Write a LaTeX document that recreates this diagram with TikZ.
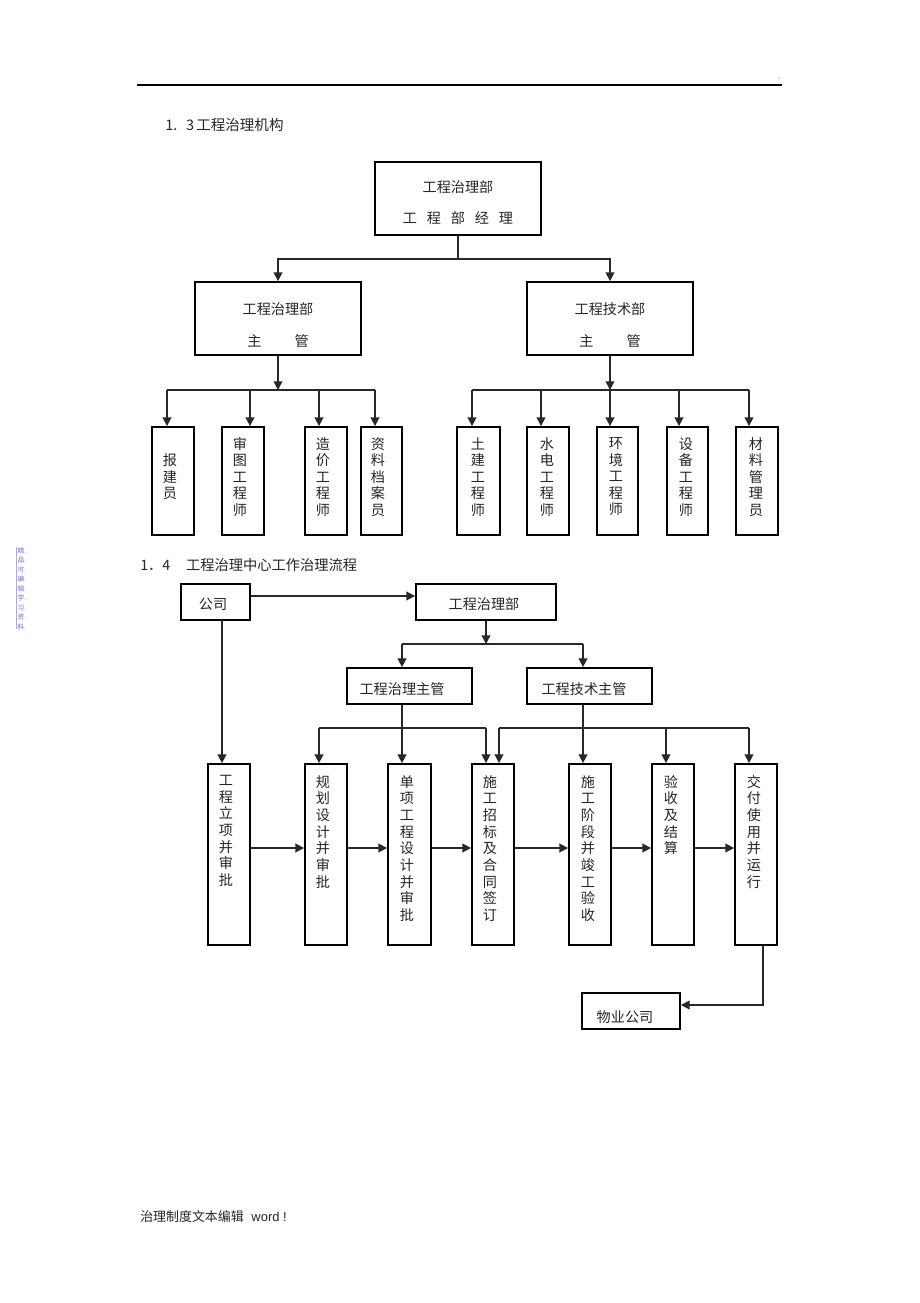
\documentclass[tikz,border=0pt]{standalone}
\usepackage{fontspec}
\setmainfont{Liberation Sans}
\newfontfamily\cjk{Noto Sans CJK SC}
\usetikzlibrary{arrows.meta,fit}
\definecolor{linegray}{RGB}{40,40,40}
\definecolor{sideblue}{RGB}{110,110,215}
\begin{document}
\begin{tikzpicture}[x=0.75pt,y=-0.75pt,
  box/.style={draw=black, line width=1.3pt, inner sep=0pt},
  conn/.style={draw=linegray, line width=1.1pt},
  arr/.style={conn, -{Triangle[length=6.5pt,width=6.5pt]}},
  txt/.style={font=\cjk\fontsize{10.6}{12.4}\selectfont, inner sep=0pt, text=black!85},
  vtxt/.style={txt, align=center},
  ftxt/.style={font=\cjk\fontsize{10.6}{12.5}\selectfont, inner sep=0pt, align=center, anchor=north, text=black!85},
  head/.style={font=\cjk\fontsize{10.9}{12}\selectfont, inner sep=0pt, anchor=west, text=black!85},
]
\fill[white] (0,0) rectangle (920,1303);
\useasboundingbox (0,0) rectangle (920,1303);

% header
\draw[line width=0.9pt] (137,85) -- (782,85);
\fill[black!60] (779,78) circle (0.7);
\node[head] (h13) at (165,125) {1.\hspace{0.6em}3\hspace{0.15em}工程治理机构};

% side text
\draw[sideblue!60, line width=0.6pt] (16,547) -- (16,629);
\node[font=\cjk\fontsize{5}{7.1}\selectfont, text=sideblue, align=center, inner sep=0pt, anchor=north] (side) at (22,547.5)
  {精.\\品.\\可.\\编.\\辑.\\学.\\习.\\资.\\料.};

% ===== org chart =====
\node[box, fit={(375,162) (541,235)}] (top) {};
\node[txt] (top1) at (458,187) {工程治理部};
\node[txt] (top2) at (458,218) {工\hspace{0.7em}程\hspace{0.7em}部\hspace{0.7em}经\hspace{0.7em}理};

\node[box, fit={(195,282) (361,355)}] (m1) {};
\node[txt] (m1a) at (278,309) {工程治理部};
\node[txt] (m1b) at (278,341) {主\hspace{2.35em}管};
\node[box, fit={(527,282) (693,355)}] (m2) {};
\node[txt] (m2a) at (610,309) {工程技术部};
\node[txt] (m2b) at (610,341) {主\hspace{2.35em}管};

\coordinate (j1) at (458,259);
\draw[conn] (top.south) -- (j1);
\draw[arr] (j1) -| (m1.north);
\draw[arr] (j1) -| (m2.north);

% left group
\node[box, fit={(152,427) (194,535)}] (a1) {};
\node[vtxt] at (170,477) {报\\建\\员};
\node[box, fit={(222,427) (264,535)}] (a2) {};
\node[vtxt] at (240,477) {审\\图\\工\\程\\师};
\node[box, fit={(305,427) (347,535)}] (a3) {};
\node[vtxt] at (323,477) {造\\价\\工\\程\\师};
\node[box, fit={(361,427) (402,535)}] (a4) {};
\node[vtxt] at (378,477) {资\\料\\档\\案\\员};

\coordinate (j2) at (278,390);
\draw[arr] (m1.south) -- (j2);
\coordinate (p1) at (167,390);
\coordinate (p2) at (250,390);
\coordinate (p3) at (319,390);
\coordinate (p4) at (375,390);
\draw[conn] (p1) -- (p4);
\draw[arr] (p1) -- (p1 |- a1.north);
\draw[arr] (p2) -- (p2 |- a2.north);
\draw[arr] (p3) -- (p3 |- a3.north);
\draw[arr] (p4) -- (p4 |- a4.north);

% right group
\node[box, fit={(457,427) (500,535)}] (b1) {};
\node[vtxt] at (478,477) {土\\建\\工\\程\\师};
\node[box, fit={(527,427) (569,535)}] (b2) {};
\node[vtxt] at (547,477) {水\\电\\工\\程\\师};
\node[box, fit={(597,427) (638,535)}] (b3) {};
\node[vtxt] at (616,477) {环\\境\\工\\程\\师};
\node[box, fit={(667,427) (708,535)}] (b4) {};
\node[vtxt] at (686,477) {设\\备\\工\\程\\师};
\node[box, fit={(736,427) (778,535)}] (b5) {};
\node[vtxt] at (756,477) {材\\料\\管\\理\\员};

\coordinate (j3) at (610,390);
\draw[arr] (m2.south) -- (j3);
\coordinate (q1) at (472,390);
\coordinate (q2) at (541,390);
\coordinate (q3) at (610,390);
\coordinate (q4) at (679,390);
\coordinate (q5) at (749,390);
\draw[conn] (q1) -- (q5);
\draw[arr] (q1) -- (q1 |- b1.north);
\draw[arr] (q2) -- (q2 |- b2.north);
\draw[arr] (q3) -- (q3 |- b3.north);
\draw[arr] (q4) -- (q4 |- b4.north);
\draw[arr] (q5) -- (q5 |- b5.north);

% ===== flow chart =====
\node[font=\cjk\fontsize{10.7}{12}\selectfont, inner sep=0pt, anchor=west, text=black!85] (h14) at (140,565) {1．4\hspace{1.1em}工程治理中心工作治理流程};

\node[box, fit={(181,584) (250,620)}] (gs) {};
\node[txt] at (213,604) {公司};
\node[box, fit={(416,584) (556,620)}] (gb) {};
\node[txt] at (484,604) {工程治理部};
\draw[arr] ([yshift=4.5pt]gs.east) -- ([yshift=4.5pt]gb.west);

\node[box, fit={(347,668) (472,704)}] (ga) {};
\node[txt] at (402,689) {工程治理主管};
\node[box, fit={(527,668) (652,704)}] (gt) {};
\node[txt] at (584,689) {工程技术主管};

\coordinate (k1) at (486,644);
\coordinate (k2) at (402,644);
\coordinate (k3) at (583,644);
\draw[arr] (gb.south) -- (k1);
\draw[conn] (k2) -- (k3);
\draw[arr] (k2) -- (k2 |- ga.north);
\draw[arr] (k3) -- (k3 |- gt.north);

% process boxes
\node[box, fit={(208,764) (250,945)}] (f1) {};
\node[ftxt] at (226,775) {工\\程\\立\\项\\并\\审\\批};
\node[box, fit={(305,764) (347,945)}] (f2) {};
\node[ftxt] at (323,775) {规\\划\\设\\计\\并\\审\\批};
\node[box, fit={(388,764) (431,945)}] (f3) {};
\node[ftxt] at (407,775) {单\\项\\工\\程\\设\\计\\并\\审\\批};
\node[box, fit={(472,764) (514,945)}] (f4) {};
\node[ftxt] at (490,775) {施\\工\\招\\标\\及\\合\\同\\签\\订};
\node[box, fit={(569,764) (611,945)}] (f5) {};
\node[ftxt] at (588,775) {施\\工\\阶\\段\\并\\竣\\工\\验\\收};
\node[box, fit={(652,764) (694,945)}] (f6) {};
\node[ftxt] at (671,775) {验\\收\\及\\结\\算};
\node[box, fit={(735,764) (777,945)}] (f7) {};
\node[ftxt] at (754,775) {交\\付\\使\\用\\并\\运\\行};

% company down
\coordinate (s1) at (222,620);
\draw[arr] (s1) -- (s1 |- f1.north);

% managers down
\draw[arr] (k2 |- ga.south) -- (k2 |- f3.north);
\draw[arr] (k3 |- gt.south) -- (k3 |- f5.north);

% buses
\coordinate (l1) at (319,728);
\coordinate (l2) at (486,728);
\draw[conn] (l1) -- (l2);
\draw[arr] (l1) -- (l1 |- f2.north);
\draw[arr] (l2) -- (l2 |- f4.north);
\coordinate (r1) at (499,728);
\coordinate (r2) at (666,728);
\coordinate (r3) at (749,728);
\draw[conn] (r1) -- (r3);
\draw[arr] (r1) -- (r1 |- f4.north);
\draw[arr] (r2) -- (r2 |- f6.north);
\draw[arr] (r3) -- (r3 |- f7.north);

% horizontal flow arrows
\coordinate (hy) at (0,848);
\draw[arr] (f1.east |- hy) -- (f2.west |- hy);
\draw[arr] (f2.east |- hy) -- (f3.west |- hy);
\draw[arr] (f3.east |- hy) -- (f4.west |- hy);
\draw[arr] (f4.east |- hy) -- (f5.west |- hy);
\draw[arr] (f5.east |- hy) -- (f6.west |- hy);
\draw[arr] (f6.east |- hy) -- (f7.west |- hy);

% property company
\node[box, fit={(582,993) (680,1029)}] (wy) {};
\node[txt] at (625,1017) {物业公司};
\coordinate (w1) at (763,1005);
\draw[arr] (w1 |- f7.south) -- (w1) -- (wy.east |- w1);

% footer
\node[font=\cjk\fontsize{9.7}{11}\selectfont, inner sep=0pt, anchor=west, text=black!85] (foot) at (140,1217) {治理制度文本编辑\hspace{0.6em}{\fontspec{Liberation Sans}word !}};
\end{tikzpicture}
\end{document}
